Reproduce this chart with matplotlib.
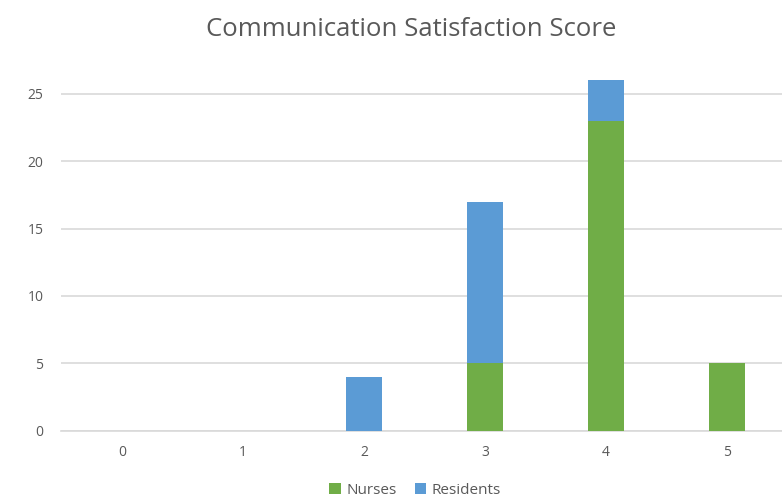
"""Stacked bar chart of communication satisfaction scores."""

import matplotlib
matplotlib.use("Agg")
import matplotlib.pyplot as plt

scores = ["0", "1", "2", "3", "4", "5"]
nurses = [0, 0, 0, 5, 23, 5]
residents = [0, 0, 4, 12, 3, 0]
y_ticks = [0, 5, 10, 15, 20, 25]

GREEN = "#70AD47"
BLUE = "#5B9BD5"
TEXT = "#595959"

plt.rcParams["font.family"] = ["Open Sans", "DejaVu Sans"]

fig = plt.figure(figsize=(7.82, 4.98), dpi=100)
# plot area runs slightly past the right edge, like the cropped original
ax = fig.add_axes([61.5 / 782, 1 - 430.7 / 498, 726 / 782, (430.7 - 73.7) / 498])

x = range(len(scores))
ax.bar(x, nurses, width=0.305, color=GREEN, label="Nurses", zorder=3)
ax.bar(x, residents, width=0.305, bottom=nurses, color=BLUE,
       label="Residents", zorder=3)

ax.set_xlim(-0.5, 5.5)
ax.set_ylim(0, 26.5)
ax.set_yticks(y_ticks)
ax.set_xticks(list(x))
ax.set_xticklabels(scores)
ax.grid(axis="y", color="#D9D9D9", linewidth=1.2, zorder=0)
for side in ["top", "right", "left"]:
    ax.spines[side].set_visible(False)
ax.spines["bottom"].set_color("#D9D9D9")
ax.spines["bottom"].set_linewidth(1.2)
ax.tick_params(length=0, colors=TEXT, labelsize=10)
ax.tick_params(axis="y", pad=13)
ax.tick_params(axis="x", pad=10)

fig.text(411 / 782, 1 - 30 / 498, "Communication Satisfaction Score",
         ha="center", va="center", fontsize=18.5, color=TEXT)

fig.legend(loc="center", bbox_to_anchor=(415 / 782, 1 - 490 / 498),
           ncol=2, frameon=False, fontsize=11, labelcolor=TEXT,
           handlelength=0.75, handleheight=0.75, handletextpad=0.35,
           columnspacing=1.2)

fig.savefig("out.png", dpi=100)
